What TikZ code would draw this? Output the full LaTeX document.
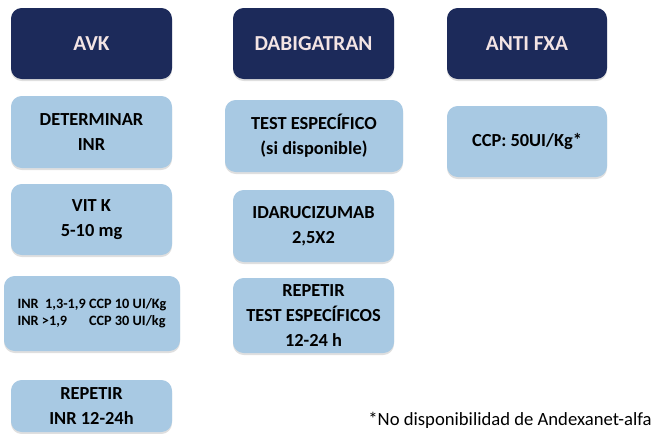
\documentclass[tikz,border=0pt]{standalone}
\usepackage{fontspec}
\setmainfont{Carlito}
\usepackage{xcolor}
\usepackage{tikz}
\usetikzlibrary{shadows}
\definecolor{revnavy}{HTML}{1C2A5A}
\definecolor{revlight}{HTML}{A8C9E3}
\definecolor{revhead}{HTML}{F3E4E4}

\begin{document}
\begin{tikzpicture}[x=0.75pt,y=-0.75pt,
  head/.style={rounded corners=8pt,fill=revnavy,text=revhead,minimum width=161*0.75pt,minimum height=71*0.75pt,align=center,font=\bfseries\fontsize{16}{19}\selectfont,inner sep=2pt,drop shadow={shadow xshift=0pt,shadow yshift=-1.5pt,opacity=0.25}},
  act/.style={rounded corners=8pt,fill=revlight,text=black,minimum width=161*0.75pt,minimum height=71*0.75pt,align=center,font=\bfseries\fontsize{13.8}{19}\selectfont,inner sep=2pt,drop shadow={shadow xshift=0pt,shadow yshift=-1.5pt,opacity=0.25}}]
  \useasboundingbox (0,0) rectangle (654,433);
  % headers
  \node[head] (avk) at (91.5,43.5) {AVK};
  \node[head] (dabi) at (313.5,43.5) {DABIGATRAN};
  \node[head,minimum width=160*0.75pt] (fxa) at (527,43.5) {ANTI FXA};
  % AVK
  \node[act,minimum height=72*0.75pt] (inr) at (91.5,132) {DETERMINAR\\INR};
  \node[act] (vitk) at (91.5,219.5) {VIT K\\5-10 mg};
  \node[act,minimum width=176*0.75pt,minimum height=75*0.75pt,font=\bfseries\fontsize{10.7}{12.5}\selectfont] (ccpdose) at (92,313.5)
    {\begin{tabular}{@{}l@{ }l@{}}INR\ \ 1,3-1,9 & CCP 10 UI/Kg\\INR >1,9 & CCP 30 UI/kg\end{tabular}};
  \node[act,minimum height=52*0.75pt] (repinr) at (91.5,406) {REPETIR\\INR 12-24h};
  % DABIGATRAN
  \node[act,minimum width=178*0.75pt,minimum height=72*0.75pt] (test) at (314,136) {TEST ESPECÍFICO\\(si disponible)};
  \node[act,minimum height=72*0.75pt] (ida) at (313.5,226) {IDARUCIZUMAB\\2,5X2};
  \node[act,minimum height=75*0.75pt] (reptest) at (313.5,315.5) {REPETIR\\TEST ESPECÍFICOS\\12-24 h};
  % ANTI FXA
  \node[act,minimum width=160*0.75pt] (ccp) at (527,141.5) {CCP: 50UI/Kg*};
  \node[anchor=east,font=\fontsize{14}{16}\selectfont,inner sep=0pt] (note) at (652,420) {*No disponibilidad de Andexanet-alfa};
\end{tikzpicture}
\end{document}
